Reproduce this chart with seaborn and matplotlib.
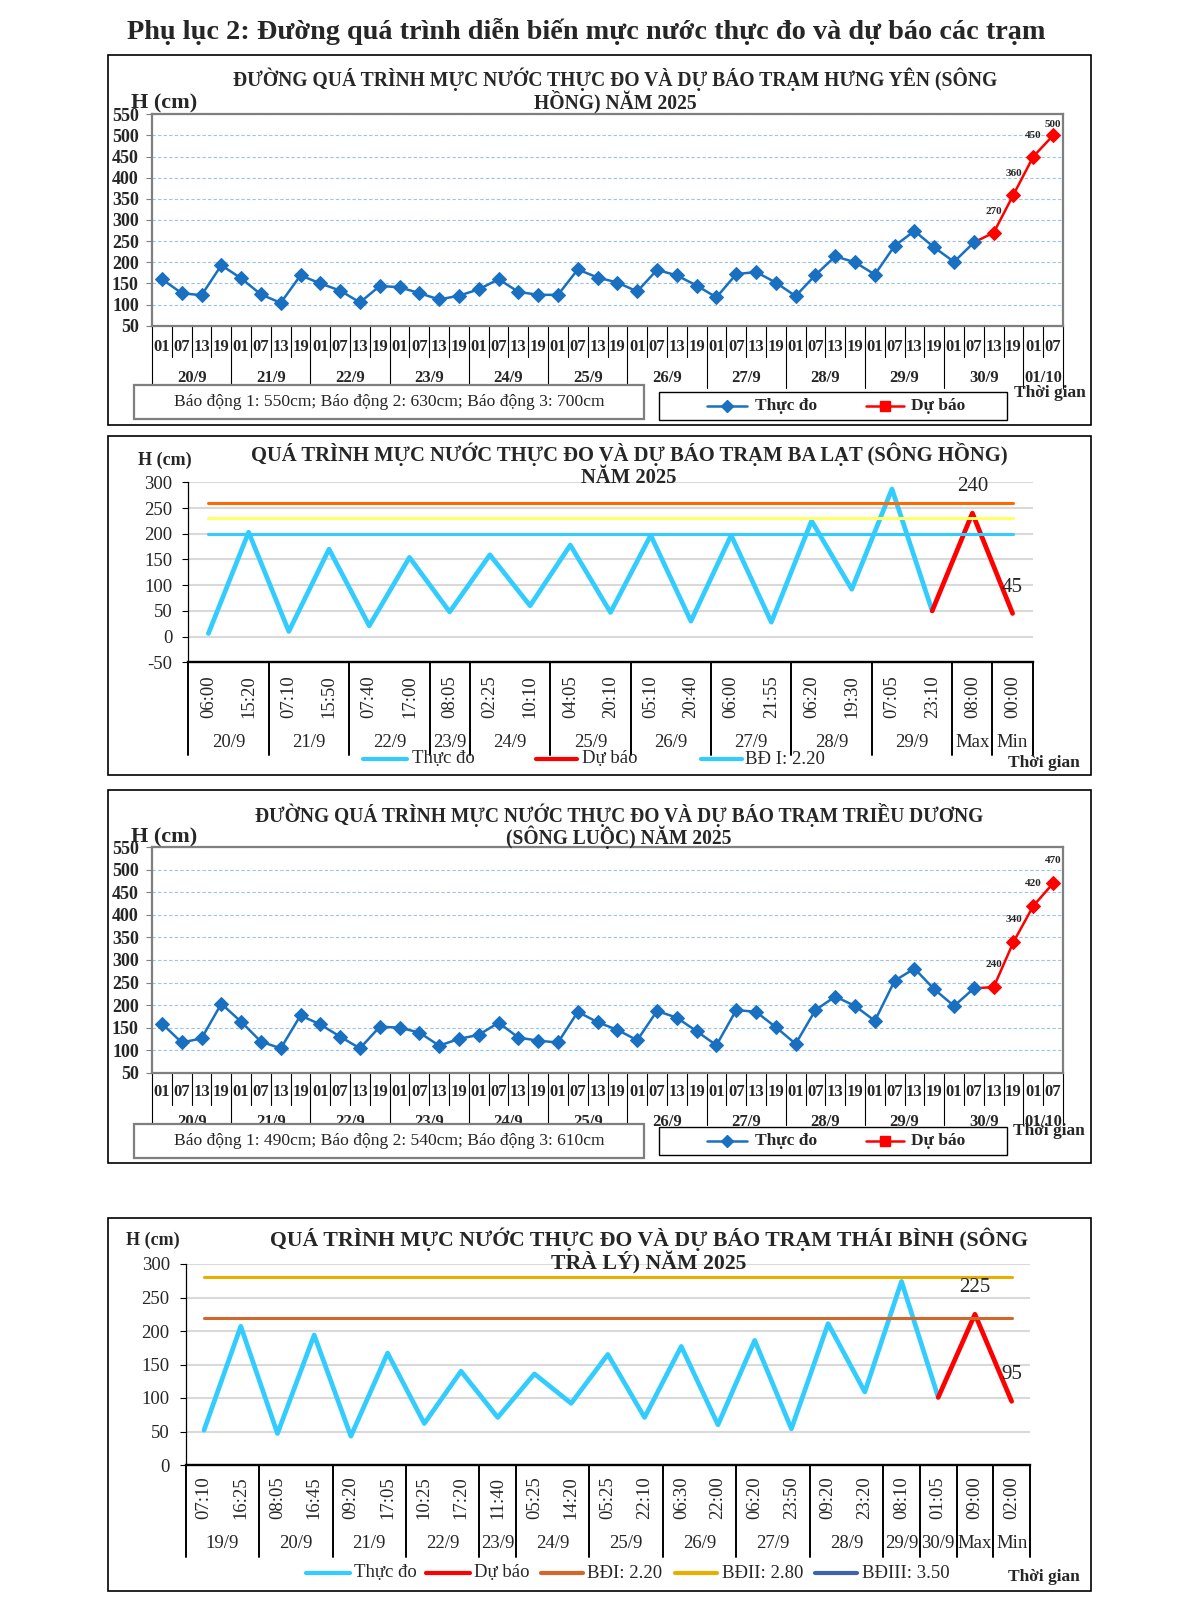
import numpy as np
import pandas as pd
import matplotlib
matplotlib.use('Agg')
import matplotlib.pyplot as plt
import seaborn as sns
from matplotlib.patches import Rectangle

W, H = 1202, 1616

sns.set_style('white')
plt.rcParams['font.family'] = ['Liberation Serif', 'DejaVu Serif']

# ---------------- data ----------------
hours = ['01', '07', '13', '19']

# Hưng Yên (sông Hồng)
hy_days = ['20/9', '21/9', '22/9', '23/9', '24/9', '25/9', '26/9', '27/9',
           '28/9', '29/9', '30/9', '01/10']
hy_obs = [160, 127, 122, 193, 162, 124, 104, 169, 150, 133, 105, 144,
          141, 127, 112, 121, 136, 160, 130, 123, 123, 183, 164, 152,
          131, 182, 169, 145, 117, 172, 177, 152, 120, 170, 214, 200,
          171, 239, 274, 235, 201, 247]
hy_fc = [270, 360, 450, 500]
hy_alarm = 'Báo động 1: 550cm; Báo động 2: 630cm; Báo động 3: 700cm'

# Triều Dương (sông Luộc)
td_days = hy_days
td_obs = [159, 117, 126, 203, 163, 119, 104, 177, 157, 130, 104, 152,
          150, 139, 110, 125, 134, 161, 128, 121, 117, 185, 162, 145,
          122, 187, 172, 142, 111, 189, 185, 151, 114, 189, 219, 198,
          165, 254, 281, 235, 198, 237]
td_fc = [240, 340, 420, 470]
td_alarm = 'Báo động 1: 490cm; Báo động 2: 540cm; Báo động 3: 610cm'

# Ba Lạt (sông Hồng)
bl_days = ['20/9', '21/9', '22/9', '23/9', '24/9', '25/9', '26/9', '27/9',
           '28/9', '29/9', 'Max', 'Min']
bl_times = [['06:00', '15:20'], ['07:10', '15:50'], ['07:40', '17:00'], ['08:05'],
            ['02:25', '10:10'], ['04:05', '20:10'], ['05:10', '20:40'],
            ['06:00', '21:55'], ['06:20', '19:30'], ['07:05', '23:10'],
            ['08:00'], ['00:00']]
bl_obs = [6, 203, 10, 170, 21, 154, 48, 159, 60, 178, 47, 197, 30, 197,
          28, 225, 92, 287, 50]
bl_fc = [240, 45]
bl_levels = [260, 230, 200]
bl_level_colors = ['#FF6A00', '#FFFF66', '#33CCFF']

# Thái Bình (sông Trà Lý)
tb_days = ['19/9', '20/9', '21/9', '22/9', '23/9', '24/9', '25/9', '26/9',
           '27/9', '28/9', '29/9', '30/9', 'Max', 'Min']
tb_times = [['07:10', '16:25'], ['08:05', '16:45'], ['09:20', '17:05'],
            ['10:25', '17:20'], ['11:40'], ['05:25', '14:20'], ['05:25', '22:10'],
            ['06:30', '22:00'], ['06:20', '23:50'], ['09:20', '23:20'],
            ['08:10'], ['01:05'], ['09:00'], ['02:00']]
tb_obs = [52, 207, 47, 194, 43, 167, 62, 140, 71, 136, 92, 165, 71, 177,
          60, 186, 54, 211, 109, 274, 101]
tb_fc = [225, 95]
tb_levels = [220, 280, 350]
tb_level_names = ['BĐI: 2.20', 'BĐII: 2.80', 'BĐIII: 3.50']
tb_level_colors = ['#D0682A', '#E8AE00', '#3F62B0']

OBS_BLUE = '#1A70C0'
LIGHT_BLUE = '#33CCFF'
RED = '#FF0000'

fig = plt.figure(figsize=(W / 100, H / 100), dpi=100)


def add_ax(l, t, r, b):
    return fig.add_axes([l / W, 1 - b / H, (r - l) / W, (b - t) / H])


def draw_hourly(ax, days, obs, fc, hour_off, day_off, sep_short, sep_long):
    n = len(obs) + len(fc)
    axh = ax.get_position().height * H
    obs_df = pd.DataFrame({'t': range(len(obs)), 'h': obs})
    fc_df = pd.DataFrame({'t': range(len(obs) - 1, n), 'h': [obs[-1]] + fc})
    sns.lineplot(data=fc_df, x='t', y='h', ax=ax, color=RED, linewidth=1.8,
                 marker='D', markersize=6.8, markeredgecolor=RED, errorbar=None,
                 markevery=list(range(1, len(fc) + 1)))
    sns.lineplot(data=obs_df, x='t', y='h', ax=ax, color=OBS_BLUE, linewidth=1.8,
                 marker='D', markersize=6.8, markeredgecolor=OBS_BLUE, errorbar=None)
    for i, v in enumerate(fc):
        ax.text(len(obs) + i, min(v + 50, 525), str(v), ha='center', va='center',
                fontsize=8, fontweight='bold')
    ax.set_xlim(-0.5, n - 0.5)
    ax.set_ylim(50, 550)
    ax.set_yticks(range(50, 551, 50))
    ax.set_yticklabels([str(v) for v in range(50, 551, 50)], fontweight='bold', fontsize=13)
    ax.set_xticks([])
    ax.set_xlabel('')
    ax.set_ylabel('')
    ax.yaxis.grid(True, color='#9DC3E6', ls=(0, (3, 2)), lw=0.8)
    ax.set_axisbelow(True)
    ax.tick_params(axis='y', length=4.5, color='#7F7F7F', pad=5, left=True)
    for s in ax.spines.values():
        s.set_color('#7F7F7F')
        s.set_linewidth(1.6)
    tr = ax.get_xaxis_transform()
    labs = (hours * 20)[:n]
    for i in range(n):
        ax.text(i, -hour_off / axh, labs[i], transform=tr, ha='center', va='center',
                fontsize=12, fontweight='bold')
    for k in range(n + 1):
        long_ = k % 4 == 0 or k == n
        ax.plot([k - 0.5, k - 0.5], [0, -(sep_long if long_ else sep_short) / axh],
                transform=tr, color='black', lw=0.8, clip_on=False)
    for d, day in enumerate(days):
        idx = [i for i in range(n) if i // 4 == d]
        ax.text(np.mean(idx), -day_off / axh, day, transform=tr, ha='center',
                va='center', fontsize=12, fontweight='bold')


def draw_event(ax, days, times, obs, fc, levels, colors, ylo, yhi,
               time_off, day_off, sep_len):
    tl = [t for g in times for t in g]
    n = len(tl)
    axh = ax.get_position().height * H
    obs_df = pd.DataFrame({'t': range(len(obs)), 'h': obs})
    fc_df = pd.DataFrame({'t': range(len(obs) - 1, n), 'h': [obs[-1]] + fc})
    sns.lineplot(data=obs_df, x='t', y='h', ax=ax, color=LIGHT_BLUE, linewidth=3.4,
                 errorbar=None)
    sns.lineplot(data=fc_df, x='t', y='h', ax=ax, color=RED, linewidth=3.4,
                 errorbar=None)
    for lv, c in zip(levels, colors):
        lv_df = pd.DataFrame({'t': [0, n - 1], 'h': [lv, lv]})
        sns.lineplot(data=lv_df, x='t', y='h', ax=ax, color=c, linewidth=2.2,
                     errorbar=None)
    for i, v in enumerate(fc):
        ax.annotate(str(v), (len(obs) + i, v), xytext=(0, 19), textcoords='offset points',
                    ha='center', va='center', fontsize=15)
    ax.set_xlim(-0.5, n - 0.5)
    ax.set_ylim(ylo, yhi)
    ticks = list(range(ylo, yhi + 1, 50))
    ax.set_yticks(ticks)
    ax.set_yticklabels([str(v) for v in ticks], fontsize=13.5)
    ax.set_xticks([])
    ax.set_xlabel('')
    ax.set_ylabel('')
    ax.yaxis.grid(True, color='#D9D9D9', lw=1.5)
    ax.set_axisbelow(True)
    ax.tick_params(axis='y', length=4.5, color='black', pad=7, left=True)
    ax.spines['top'].set_visible(False)
    ax.spines['right'].set_visible(False)
    ax.spines['left'].set_color('black')
    ax.spines['left'].set_linewidth(0.9)
    ax.spines['bottom'].set_color('black')
    ax.spines['bottom'].set_linewidth(1.7)
    tr = ax.get_xaxis_transform()
    for i, t in enumerate(tl):
        ax.text(i, -time_off / axh, t, transform=tr, ha='center', va='center',
                rotation=90, fontsize=13.5)
    start = 0
    bounds = [0]
    for d, g in zip(days, times):
        ax.text(start + (len(g) - 1) / 2, -day_off / axh, d, transform=tr,
                ha='center', va='center', fontsize=13.5)
        start += len(g)
        bounds.append(start)
    for k in bounds:
        ax.plot([k - 0.5, k - 0.5], [0, -sep_len / axh], transform=tr,
                color='black', lw=1.4, clip_on=False)


# ---------------- panels ----------------
ax1 = add_ax(152, 114.3, 1063, 325.7)
draw_hourly(ax1, hy_days, hy_obs, hy_fc, 21, 52, 31, 62)

ax2 = add_ax(188.3, 482.3, 1032.7, 662.3)
draw_event(ax2, bl_days, bl_times, bl_obs, bl_fc, bl_levels, bl_level_colors,
           -50, 300, 34, 80, 93)

ax3 = add_ax(152, 847.3, 1063, 1072.7)
draw_hourly(ax3, td_days, td_obs, td_fc, 19, 49, 32, 52)

ax4 = add_ax(185.7, 1264, 1030, 1465)
draw_event(ax4, tb_days, tb_times, tb_obs, tb_fc, tb_levels, tb_level_colors,
           0, 300, 33, 79, 92)

# ---------------- overlay (frames, titles, legends) ----------------
ov = fig.add_axes([0, 0, 1, 1], zorder=10)
ov.set_xlim(0, W)
ov.set_ylim(H, 0)
ov.axis('off')
ov.patch.set_visible(False)

ov.text(586, 31, 'Phụ lục 2: Đường quá trình diễn biến mực nước thực đo và dự báo các trạm',
        ha='center', va='center', fontsize=20.3, fontweight='bold')

for (l, t, r, b) in [(108, 55, 1091, 425), (108, 436, 1091, 775),
                     (108, 790, 1091, 1163), (108, 1218, 1091, 1591)]:
    ov.add_patch(Rectangle((l, t), r - l, b - t, fill=False, ec='black', lw=1.2))

# panel titles
ov.text(615, 79, 'ĐƯỜNG QUÁ TRÌNH MỰC NƯỚC THỰC ĐO VÀ DỰ BÁO TRẠM HƯNG YÊN (SÔNG',
        ha='center', va='center', fontsize=14.1, fontweight='bold')
ov.text(615, 102, 'HỒNG) NĂM 2025', ha='center', va='center', fontsize=14.1, fontweight='bold')
ov.text(629, 454, 'QUÁ TRÌNH MỰC NƯỚC THỰC ĐO VÀ DỰ BÁO TRẠM BA LẠT (SÔNG HỒNG)',
        ha='center', va='center', fontsize=14.9, fontweight='bold')
ov.text(629, 478, 'NĂM 2025', ha='center', va='center', fontsize=14.9, fontweight='bold')
ov.text(619, 815, 'ĐƯỜNG QUÁ TRÌNH MỰC NƯỚC THỰC ĐO VÀ DỰ BÁO TRẠM TRIỀU DƯƠNG',
        ha='center', va='center', fontsize=14.05, fontweight='bold')
ov.text(619, 837, '(SÔNG LUỘC) NĂM 2025', ha='center', va='center', fontsize=14.05,
        fontweight='bold')
ov.text(649, 1239, 'QUÁ TRÌNH MỰC NƯỚC THỰC ĐO VÀ DỰ BÁO TRẠM THÁI BÌNH (SÔNG',
        ha='center', va='center', fontsize=15.7, fontweight='bold')
ov.text(649, 1263, 'TRÀ LÝ) NĂM 2025', ha='center', va='center', fontsize=15.7,
        fontweight='bold')

# y axis labels
ov.text(164, 103, 'H (cm)', ha='center', va='center', fontsize=16, fontweight='bold')
ov.text(164, 837, 'H (cm)', ha='center', va='center', fontsize=16, fontweight='bold')
ov.text(165, 460, 'H (cm)', ha='center', va='center', fontsize=13, fontweight='bold')
ov.text(153, 1240, 'H (cm)', ha='center', va='center', fontsize=13, fontweight='bold')

# "Thời gian"
for x, y in [(1050, 393), (1049, 1131), (1044, 763), (1044, 1577)]:
    ov.text(x, y, 'Thời gian', ha='center', va='center', fontsize=12.5, fontweight='bold')

# legend boxes for the hourly panels
for top, alarm, lt in [(385, hy_alarm, 392), (1124, td_alarm, 1127)]:
    ov.add_patch(Rectangle((134, top), 510, 34, fc='white', ec='#7F7F7F', lw=1.6))
    ov.text(389, top + 17, alarm, ha='center', va='center', fontsize=12.6)
    ov.add_patch(Rectangle((659, lt), 348, 28, fc='white', ec='black', lw=1.0))
    ly = lt + 14
    ov.plot([707, 747], [ly, ly], color=OBS_BLUE, lw=1.8)
    ov.plot([727], [ly], marker='D', ms=6.5, color=OBS_BLUE)
    ov.text(755, ly, 'Thực đo', ha='left', va='center', fontsize=12.5, fontweight='bold')
    ov.plot([866, 904], [ly, ly], color=RED, lw=1.8)
    ov.plot([885], [ly], marker='s', ms=6.5, color=RED)
    ov.text(911, ly, 'Dự báo', ha='left', va='center', fontsize=12.5, fontweight='bold')

# legends for the event panels
for x0, x1, tx, c, name in [(363, 407, 412, LIGHT_BLUE, 'Thực đo'),
                            (536, 577, 582, RED, 'Dự báo'),
                            (701, 742, 745, bl_level_colors[2], 'BĐ I: 2.20')]:
    ov.plot([x0, x1], [759, 759], color=c, lw=3.0)
    ov.text(tx, 759, name, ha='left', va='center', fontsize=13.5)

tb_leg = [(306, 350, 354, LIGHT_BLUE, 'Thực đo'), (426, 470, 474, RED, 'Dự báo')]
tb_leg += [(x0, x1, tx, c, nm) for (x0, x1, tx), c, nm in
           zip([(541, 583, 587), (675, 717, 722), (815, 857, 862)],
               tb_level_colors, tb_level_names)]
for x0, x1, tx, c, name in tb_leg:
    ov.plot([x0, x1], [1573, 1573], color=c, lw=3.0)
    ov.text(tx, 1573, name, ha='left', va='center', fontsize=13.5)

fig.savefig('out.png', dpi=100)
